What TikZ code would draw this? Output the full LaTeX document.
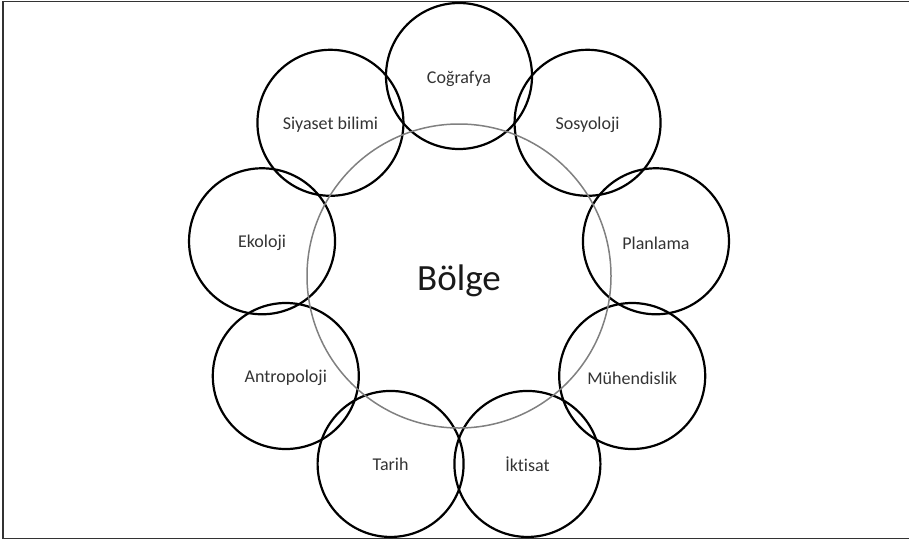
\documentclass[tikz,border=0pt]{standalone}
\usepackage{fontspec}
\setmainfont{Carlito}[Ligatures=NoCommon]
\newcommand{\lowtxt}[2]{\raisebox{-#1}[\height][\depth]{#2}}
\begin{document}
\begin{tikzpicture}[x=1pt,y=-1pt,
  disc/.style={circle,draw=black,line width=2.2pt,minimum size=146pt,inner sep=0pt,font=\fontsize{18}{20}\selectfont,text=black!80},
  hub/.style={circle,draw=black!50,line width=1.5pt,minimum size=304pt,inner sep=0pt,font=\fontsize{37}{40}\selectfont,text=black!90}]
\useasboundingbox (0,0) rectangle (909,541);
\draw[black!80,line width=1.6pt] (909,1.5) -- (3,1.5) -- (3,538.5) -- (909,538.5);
\coordinate (c) at (459,276);
\node[disc] (cog) at ([shift={(-90:200)}]c) {\lowtxt{3pt}{Coğrafya}};
\node[disc] (siy) at ([shift={(-130:200)}]c) {\lowtxt{2pt}{Siyaset bilimi}};
\node[disc] (eko) at ([shift={(-170:200)}]c) {\lowtxt{2pt}{Ekoloji}};
\node[disc] (ant) at ([shift={(-210:200)}]c) {\lowtxt{2pt}{Antropoloji}};
\node[disc] (tar) at ([shift={(-250:200)}]c) {\lowtxt{0pt}{Tarih}};
\node[disc] (ikt) at ([shift={(-290:200)}]c) {\lowtxt{0pt}{İktisat}};
\node[disc] (muh) at ([shift={(-330:200)}]c) {\lowtxt{2pt}{Mühendislik}};
\node[disc] (pla) at ([shift={(-10:200)}]c) {\lowtxt{2pt}{Planlama}};
\node[disc] (sos) at ([shift={(-50:200)}]c) {\lowtxt{2pt}{Sosyoloji}};
\node[hub] (bolge) at (c) {\lowtxt{5pt}{Bölge}};
\end{tikzpicture}
\end{document}
